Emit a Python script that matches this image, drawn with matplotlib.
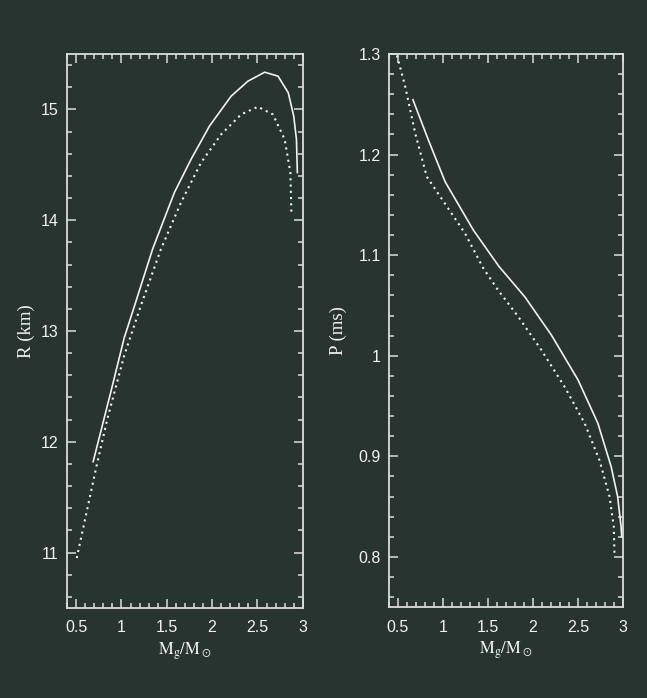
import matplotlib
matplotlib.use("Agg")
import matplotlib.pyplot as plt
from matplotlib.ticker import MultipleLocator

# ---- data ----
r_solid_m = [0.688, 0.883, 1.031, 1.067, 1.20, 1.344, 1.584, 1.768, 1.971, 2.21, 2.395, 2.58, 2.727, 2.84, 2.90, 2.93, 2.94]
r_solid_r = [11.82, 12.45, 12.94, 13.03, 13.37, 13.74, 14.25, 14.55, 14.85, 15.12, 15.255, 15.336, 15.30, 15.15, 14.94, 14.73, 14.43]
r_dot_m = [0.507, 0.625, 0.725, 0.846, 1.031, 1.215, 1.436, 1.657, 1.878, 2.10, 2.32, 2.505, 2.67, 2.80, 2.863, 2.874]
r_dot_r = [10.95, 11.40, 11.78, 12.21, 12.78, 13.23, 13.74, 14.16, 14.52, 14.775, 14.955, 15.024, 14.955, 14.73, 14.43, 14.07]

p_solid_m = [0.666, 0.84, 1.024, 1.337, 1.62, 1.909, 2.204, 2.50, 2.72, 2.867, 2.94, 2.978, 2.985]
p_solid_p = [1.2546, 1.214, 1.173, 1.125, 1.089, 1.0586, 1.0206, 0.976, 0.933, 0.890, 0.860, 0.830, 0.820]
p_dot_m = [0.489, 0.582, 0.692, 0.82, 1.024, 1.246, 1.448, 1.614, 1.835, 2.093, 2.352, 2.573, 2.739, 2.85, 2.897, 2.905]
p_dot_p = [1.2986, 1.267, 1.221, 1.178, 1.151, 1.1215, 1.087, 1.065, 1.039, 1.0057, 0.969, 0.933, 0.896, 0.860, 0.830, 0.802]

BG = "#283430"
FG = "#f2f2f2"
SP = "#dcdcdc"

plt.rcParams["mathtext.fontset"] = "stix"
fig = plt.figure(figsize=(6.47, 6.98), dpi=100, facecolor=BG)

ax1 = fig.add_axes([0.1036, 0.129, 0.3644, 0.7936])
ax2 = fig.add_axes([0.6012, 0.13, 0.3618, 0.7926])

for ax in (ax1, ax2):
    ax.set_facecolor(BG)
    for s in ax.spines.values():
        s.set_color(SP)
        s.set_linewidth(1.3)
    ax.tick_params(which="both", direction="in", top=True, right=True,
                   colors=SP, labelcolor=FG, width=1.1)
    ax.tick_params(which="major", length=6.8)
    ax.tick_params(which="minor", length=3.6)
    ax.tick_params(axis="x", which="major", pad=9)
    ax.tick_params(axis="y", which="major", pad=6)
    ax.set_xlim(0.4, 3.0)
    ax.xaxis.set_minor_locator(MultipleLocator(0.1))
    ax.set_xticks([0.5, 1, 1.5, 2, 2.5, 3])
    ax.set_xticklabels(["0.5", "1", "1.5", "2", "2.5", "3"], family="Liberation Sans", fontsize=11.5)
    ax.set_xlabel(r"$\mathrm{M_g/M_\odot}$", color=FG, fontsize=12)
    ax.xaxis.set_label_coords(0.5, -0.058)

ax1.plot(r_solid_m, r_solid_r, color=FG, lw=1.2)
ax1.plot(r_dot_m, r_dot_r, color=FG, lw=1.5, linestyle=(0, (1, 2.0)))
ax1.set_ylim(10.5, 15.5)
ax1.set_yticks([11, 12, 13, 14, 15])
ax1.set_yticklabels(["11", "12", "13", "14", "15"], family="Liberation Sans", fontsize=11.5)
ax1.yaxis.set_minor_locator(MultipleLocator(0.2))
ax1.set_ylabel("R (km)", color=FG, fontsize=13.5, family="Liberation Serif")
ax1.yaxis.set_label_coords(-0.135, 0.5)

ax2.plot(p_solid_m, p_solid_p, color=FG, lw=1.2)
ax2.plot(p_dot_m, p_dot_p, color=FG, lw=1.5, linestyle=(0, (1, 2.0)))
ax2.set_ylim(0.75, 1.3)
ax2.set_yticks([0.8, 0.9, 1.0, 1.1, 1.2, 1.3])
ax2.set_yticklabels(["0.8", "0.9", "1", "1.1", "1.2", "1.3"], family="Liberation Sans", fontsize=11.5)
ax2.yaxis.set_minor_locator(MultipleLocator(0.02))
ax2.set_ylabel("P (ms)", color=FG, fontsize=13.5, family="Liberation Serif")
ax2.yaxis.set_label_coords(-0.18, 0.5)

fig.savefig("out.png", dpi=100, facecolor=BG)
